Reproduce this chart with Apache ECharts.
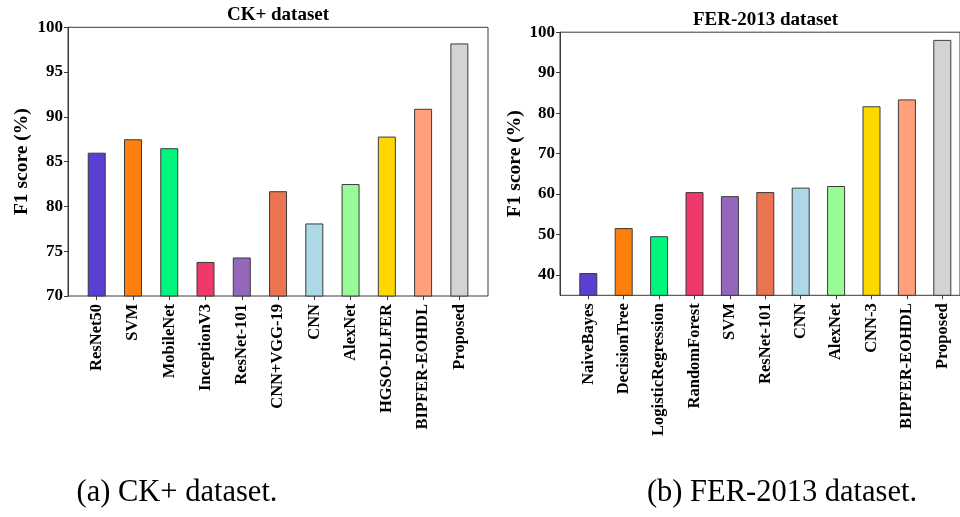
<!DOCTYPE html>
<html>
<head>
<meta charset="utf-8">
<script src="https://cdn.jsdelivr.net/npm/echarts@6/dist/echarts.min.js"></script>
<style>
  html, body { margin: 0; padding: 0; background: #ffffff; }
  #chart { width: 960px; height: 517px; }
</style>
</head>
<body>
<div id="chart"></div>
<script>
// F1 scores per method on the CK+ dataset
const ckMethods = ['ResNet50', 'SVM', 'MobileNet', 'InceptionV3', 'ResNet-101', 'CNN+VGG-19',
                   'CNN', 'AlexNet', 'HGSO-DLFER', 'BIPFER-EOHDL', 'Proposed'];
const ckScores = [86.0, 87.5, 86.5, 73.8, 74.3, 81.7, 78.1, 82.5, 87.8, 90.9, 98.2];

// F1 scores per method on the FER-2013 dataset
const ferMethods = ['NaiveBayes', 'DecisionTree', 'LogisticRegression', 'RandomForest', 'SVM',
                    'ResNet-101', 'CNN', 'AlexNet', 'CNN-3', 'BIPFER-EOHDL', 'Proposed'];
const ferScores = [40.5, 51.6, 49.6, 60.5, 59.5, 60.5, 61.6, 62.0, 81.7, 83.4, 98.1];

// y-axis tick labels
const ckTicks = [70, 75, 80, 85, 90, 95, 100];
const ferTicks = [40, 50, 60, 70, 80, 90, 100];

// bar fill colours, one per method slot
const barColors = ['#5b3fd3', '#fd7f0d', '#00f57c', '#f0386b', '#9467bd', '#e9744f',
                   '#add8e6', '#98fb98', '#ffd700', '#ffa07a', '#d3d3d3'];

const SERIF = '"Liberation Serif", "Times New Roman", serif';
const INK = '#000000';
const EDGE = '#3a3a3a';

// Panel geometry: the frame box and the inner band holding the category slots
const panels = [
  { frame: { left: 68, top: 27.3, width: 420, height: 268.7 },
    band: { left: 78.6, width: 398.9 }, yMin: 70, yMax: 100, nameGap: 36 },
  { frame: { left: 560, top: 32.2, width: 411, height: 263.1 },
    band: { left: 570.6, width: 389.8 }, yMin: 35, yMax: 100, nameGap: 35 }
];

const tickLabelStyle = { color: INK, fontFamily: SERIF, fontWeight: 'bold', fontSize: 17 };

function barData(values) {
  return values.map((v, i) => ({ value: v, itemStyle: { color: barColors[i] } }));
}

const grids = [];
const xAxes = [];
const yAxes = [];
const series = [];

[[ckMethods, ckScores, ckTicks], [ferMethods, ferScores, ferTicks]].forEach(([cats, vals, ticks], p) => {
  const P = panels[p];
  const frameIdx = grids.length;
  // frame grid: draws the box and the visible y axis
  grids.push({ left: P.frame.left, top: P.frame.top, width: P.frame.width, height: P.frame.height,
               show: true, borderColor: EDGE, borderWidth: 1, backgroundColor: 'transparent' });
  xAxes.push({ gridIndex: frameIdx, type: 'value', show: false, min: 0, max: 1 });
  yAxes.push({
    gridIndex: frameIdx, type: 'value', min: P.yMin, max: P.yMax,
    name: 'F1 score (%)', nameLocation: 'middle', nameGap: P.nameGap, nameRotate: 90,
    nameTextStyle: { color: INK, fontFamily: SERIF, fontWeight: 'bold', fontSize: 19.5 },
    axisLine: { show: true, lineStyle: { color: EDGE, width: 1 } },
    axisTick: { show: true, length: 4, inside: false, customValues: ticks, lineStyle: { color: EDGE } },
    axisLabel: Object.assign({ margin: 5, customValues: ticks }, tickLabelStyle),
    splitLine: { show: false }
  });
  // bar grid: category slots for the bars
  const barIdx = grids.length;
  grids.push({ left: P.band.left, top: P.frame.top, width: P.band.width, height: P.frame.height });
  xAxes.push({
    gridIndex: barIdx, type: 'category', data: cats, boundaryGap: true,
    axisLine: { show: false },
    axisTick: { show: true, alignWithLabel: true, length: 4, lineStyle: { color: EDGE } },
    axisLabel: { rotate: 90, margin: 8, interval: 0, color: INK, fontFamily: SERIF,
                 fontWeight: 'bold', fontSize: 16.5 }
  });
  yAxes.push({ gridIndex: barIdx, type: 'value', min: P.yMin, max: P.yMax, show: false,
               splitLine: { show: false } });
  series.push({
    type: 'bar', xAxisIndex: barIdx, yAxisIndex: barIdx, barWidth: 18,
    itemStyle: { borderColor: EDGE, borderWidth: 1 },
    data: barData(vals), animation: false, z: 3
  });
});

const titleFont = 'bold 19px ' + SERIF;
const captionFont = '30.5px ' + SERIF;

const option = {
  animation: false,
  backgroundColor: '#ffffff',
  grid: grids,
  xAxis: xAxes,
  yAxis: yAxes,
  series: series,
  graphic: [
    { type: 'text', x: 278, y: 15, style: { text: 'CK+ dataset', font: titleFont, fill: INK,
      textAlign: 'center', textVerticalAlign: 'middle' } },
    { type: 'text', x: 765.5, y: 20.5, style: { text: 'FER-2013 dataset', font: titleFont, fill: INK,
      textAlign: 'center', textVerticalAlign: 'middle' } },
    { type: 'text', x: 177, y: 493, style: { text: '(a) CK+ dataset.', font: captionFont, fill: INK,
      textAlign: 'center', textVerticalAlign: 'middle' } },
    { type: 'text', x: 782, y: 493, style: { text: '(b) FER-2013 dataset.', font: captionFont, fill: INK,
      textAlign: 'center', textVerticalAlign: 'middle' } }
  ]
};

const chart = echarts.init(document.getElementById('chart'), null, { renderer: 'canvas' });
chart.setOption(option);
</script>
</body>
</html>
